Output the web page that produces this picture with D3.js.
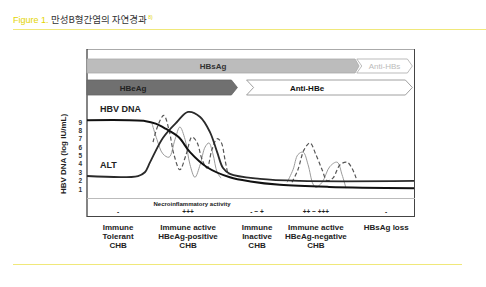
<!DOCTYPE html>
<html><head><meta charset="utf-8">
<script src="https://cdn.jsdelivr.net/npm/d3@7"></script>
<style>body{margin:0;background:#fff}svg{display:block}text{font-family:"Liberation Sans",Arial,sans-serif}</style>
</head><body>
<svg id="c" width="486" height="287"></svg>
<script>
// ---- data ----
const yTicks = [1,2,3,4,5,6,7,8,9];
const dnaCurve = [[0,9.2],[18,9.1],[21,8.8],[24,8.2],[28,7.2],[31.5,5.4],[36.7,3.6],[43.7,2.4],[50,1.9],[59,1.5],[74,1.25],[100,1.1]];
const altCurve = [[0,2.55],[15.6,2.55],[17.7,3.0],[19.3,4.2],[23.2,7.1],[27.5,9.0],[30.9,10.2],[34.6,9.6],[37.6,7.8],[39.8,5.4],[41.6,3.5],[43.7,2.8],[52.9,2.2],[65,1.96],[100,1.96]];
const altFlux1 = [[19.9,8.8],[21.4,6.9],[23.2,5.2],[25.1,4.8],[26.9,6.9],[28.4,8.4],[30.0,6.9],[31.5,3.9],[33.0,2.4],[34.6,3.9],[36.1,6.0],[37.3,6.5],[38.5,5.2],[39.8,3.0],[41.0,2.3]];
const dnaFlux1 = [[20.2,6.6],[21.7,8.6],[23.5,9.8],[25.1,8.0],[26.6,5.1],[28.4,3.3],[30.3,5.1],[32.1,7.2],[33.6,6.6],[35.2,4.5],[36.7,3.5],[38.2,5.7],[39.8,7.0],[41.0,6.6],[42.2,4.5],[43.1,2.7]];
const altFlux2 = [[61.2,1.8],[63.0,3.3],[64.5,5.1],[66.1,5.4],[67.6,3.9],[69.1,1.6],[70.0,1.2],[71.9,1.8],[74.3,3.7],[76.5,4.2],[78.0,2.7],[79.2,1.1]];
const dnaFlux2 = [[62.7,1.8],[64.5,3.3],[66.4,5.7],[68.2,6.5],[70.0,5.1],[71.9,3.3],[73.4,2.0],[75.2,2.3],[77.4,3.9],[79.5,4.2],[81.0,3.5],[82.3,2.3]];
// serology bars: [label, start, end]
const serologyRow1 = [["HBsAg",0,83.2],["Anti-HBs",82.5,99.5]];
const serologyRow2 = [["HBeAg",0,46],["Anti-HBe",48.8,99.5]];
const phaseMid = [9.5,30.9,52,70,91.5];
const phaseActivity = ["-","+++","- ~ +","++ ~ +++","-"];
const phaseNames = [["Immune","Tolerant","CHB"],["Immune active","HBeAg-positive","CHB"],["Immune","Inactive","CHB"],["Immune active","HBeAg-negative","CHB"],["HBsAg loss"]];

// ---- drawing ----
const svg = d3.select("#c");
const x = d3.scaleLinear().domain([0,100]).range([87,414]);
const y = d3.scaleLinear().domain([1,9]).range([189,122]);

// title
const t = svg.append("text").attr("x",13).attr("y",23).attr("font-size",9);
t.append("tspan").attr("fill","#e3d400").text("Figure 1. ");
t.append("tspan").attr("fill","#333").attr("font-family","'Noto Sans CJK KR'").attr("font-size",9.5).text("만성B형간염의 자연경과");
t.append("tspan").attr("fill","#e3d400").attr("font-size",5).attr("dy",-4).attr("dx",1.5).text("8)");
svg.append("line").attr("x1",13).attr("x2",486).attr("y1",29.5).attr("y2",29.5).attr("stroke","#f0e87a").attr("stroke-width",1);
svg.append("line").attr("x1",13).attr("x2",462).attr("y1",264.5).attr("y2",264.5).attr("stroke","#f0e87a").attr("stroke-width",1);

// frame
svg.append("line").attr("x1",87).attr("x2",415).attr("y1",49.5).attr("y2",49.5).attr("stroke","#aaa");
svg.append("line").attr("x1",87).attr("x2",87).attr("y1",49).attr("y2",217).attr("stroke","#333").attr("stroke-width",1.2);
svg.append("line").attr("x1",414.5).attr("x2",414.5).attr("y1",49).attr("y2",217).attr("stroke","#444");
svg.append("line").attr("x1",87).attr("x2",415).attr("y1",216.5).attr("y2",216.5).attr("stroke","#444");
svg.append("line").attr("x1",87).attr("x2",415).attr("y1",198.5).attr("y2",198.5).attr("stroke","#bbb");

// serology arrows
function arrowPath(x0,x1,y0,y1,notch,tip){
  const ym=(y0+y1)/2;
  return `M${x0},${y0}L${x1-tip},${y0}L${x1},${ym}L${x1-tip},${y1}L${x0},${y1}`+(notch?`L${x0+tip},${ym}Z`:"Z");
}
function row(data,y0,y1,styles){
  data.forEach((d,i)=>{
    const s=styles[i];
    svg.append("path").attr("d",arrowPath(x(d[1]),x(d[2]),y0,y1,s.notch,s.tip))
      .attr("fill",s.fill).attr("stroke",s.stroke).attr("stroke-width",0.8);
    svg.append("text").attr("x",s.tx!=null?s.tx:(x(d[1])+x(d[2]))/2).attr("y",(y0+y1)/2+3)
      .attr("text-anchor","middle").attr("font-size",8).attr("font-weight",s.bold?"bold":"normal")
      .attr("fill",s.color).text(d[0]);
  });
}
row(serologyRow1,59,73,[
  {fill:"#bcbcbc",stroke:"#aaa",notch:false,tip:4,color:"#333",bold:true,tx:213},
  {fill:"#fff",stroke:"#aaa",notch:true,tip:5,color:"#bbb",bold:false}
]);
row(serologyRow2,80,95,[
  {fill:"#707070",stroke:"#666",notch:false,tip:6,color:"#222",bold:true,tx:133},
  {fill:"#fff",stroke:"#888",notch:true,tip:7,color:"#111",bold:true,tx:307}
]);

// y axis
const ax = svg.append("g").attr("transform","translate(82,0)")
  .call(d3.axisLeft(y).tickValues(yTicks).tickSize(0).tickPadding(0));
ax.select(".domain").remove();
ax.selectAll("text").attr("font-size",6.5).attr("font-weight","bold").attr("fill","#333")
  .attr("font-family","'Liberation Sans',Arial,sans-serif");
svg.append("text").attr("transform","translate(66,154) rotate(-90)").attr("text-anchor","middle")
  .attr("font-size",8).attr("font-weight","bold").attr("fill","#222").text("HBV DNA (log IU/mL)");

// curves
const line = d3.line().x(d=>x(d[0])).y(d=>y(d[1])).curve(d3.curveCatmullRom.alpha(0.5));
function curve(data,stroke,w,dash){
  svg.append("path").datum(data).attr("d",line).attr("fill","none").attr("stroke",stroke)
    .attr("stroke-width",w).attr("stroke-dasharray",dash||null);
}
curve(altFlux1,"#9a9a9a",1);
curve(altFlux2,"#9a9a9a",1);
curve(dnaFlux1,"#555",1.2,"4,2.5");
curve(dnaFlux2,"#555",1.2,"4,2.5");
curve(altCurve,"#2a2a2a",1.8);
curve(dnaCurve,"#111",2);

svg.append("text").attr("x",100).attr("y",112).attr("font-size",9).attr("font-weight","bold").attr("fill","#222").text("HBV DNA");
svg.append("text").attr("x",100).attr("y",168).attr("font-size",9).attr("font-weight","bold").attr("fill","#222").text("ALT");

// necroinflammatory
svg.append("text").attr("x",192).attr("y",206).attr("text-anchor","middle").attr("font-size",6)
  .attr("font-weight","bold").attr("fill","#222").text("Necroinflammatory activity");
svg.selectAll(".act").data(phaseActivity).join("text").attr("class","act")
  .attr("x",(d,i)=>x(phaseMid[i])).attr("y",214).attr("text-anchor","middle")
  .attr("font-size",6.5).attr("font-weight","bold").attr("fill","#222").text(d=>d);

// phase names
phaseNames.forEach((lines,i)=>{
  const tx = svg.append("text").attr("text-anchor","middle").attr("font-size",8)
    .attr("font-weight","bold").attr("fill","#222");
  lines.forEach((l,j)=>tx.append("tspan").attr("x",x(phaseMid[i])).attr("y",230+j*9.2).text(l));
});
</script>
</body></html>
